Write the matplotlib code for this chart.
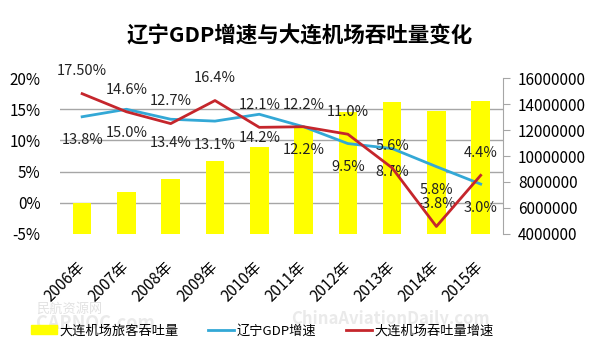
import numpy as np
import matplotlib.pyplot as plt
from matplotlib.ticker import FixedLocator, FuncFormatter

plt.rcParams['font.family'] = ['Noto Sans CJK SC', 'DejaVu Sans']

# data
years = ['2006年', '2007年', '2008年', '2009年', '2010年',
         '2011年', '2012年', '2013年', '2014年', '2015年']
passengers = [6400000, 7200000, 8200000, 9600000, 10700000,
              12150000, 13400000, 14150000, 13500000, 14200000]
gdp_growth = [13.8, 15.0, 13.4, 13.1, 14.2, 12.2, 9.5, 8.7, 5.8, 3.0]
airport_growth = [17.5, 14.6, 12.7, 16.4, 12.1, 12.2, 11.0, 5.6, -3.8, 4.4]
airport_labels = ['17.50%', '14.6%', '12.7%', '16.4%', '12.1%',
                  '12.2%', '11.0%', '5.6%', '-3.8%', '4.4%']

YELLOW = '#FFFF00'
BLUE = '#33A8D6'
RED = '#C5262C'
GRID = '#A6A6A6'

fig = plt.figure(figsize=(6, 3.55), dpi=100)
ax = fig.add_axes([0.1, 0.341, 0.738, 0.439])
ax2 = ax.twinx()
x = np.arange(len(years))

# bars on the primary axes, their scale shown on the right side
ax.bar(x, passengers, width=0.42, color=YELLOW, zorder=2)
ax.set_ylim(4000000, 16000000)
ax.set_xlim(-0.5, len(years) - 0.5)
ax.yaxis.tick_right()
ax.yaxis.set_label_position('right')
ax.set_yticks(np.arange(4000000, 16000001, 2000000))
ax.yaxis.set_major_formatter(FuncFormatter(lambda v, p: f'{int(v)}'))
ax.tick_params(axis='y', which='major', length=5, color=GRID, labelsize=11, pad=6)
ax.yaxis.set_minor_locator(FixedLocator(np.linspace(4000000, 16000000, 6)))
ax.tick_params(axis='y', which='minor', length=0)
ax.grid(axis='y', which='minor', color=GRID, lw=1, zorder=0)
ax.set_axisbelow(True)
for s in ['top', 'left', 'bottom']:
    ax.spines[s].set_visible(False)
ax.spines['right'].set_color(GRID)

ax.set_xticks(x)
ax.set_xticklabels(years, rotation=45, ha='right', va='center',
                   rotation_mode='anchor', fontsize=11)
ax.tick_params(axis='x', length=0, pad=22)

# growth lines on the twin axes, their scale shown on the left side
ax2.yaxis.tick_left()
ax2.yaxis.set_label_position('left')
ax2.set_ylim(-5, 20)
ax2.set_yticks(np.arange(-5, 21, 5))
ax2.yaxis.set_major_formatter(FuncFormatter(lambda v, p: f'{int(v)}%'))
ax2.tick_params(axis='y', length=0, labelsize=11, pad=14)
for s in ax2.spines.values():
    s.set_visible(False)

ax2.plot(x, gdp_growth, color=BLUE, lw=2, zorder=3)
ax2.plot(x, airport_growth, color=RED, lw=2, zorder=4)

for i in x:
    ax2.annotate(airport_labels[i], (i, airport_growth[i]), xytext=(0, 16),
                 textcoords='offset points', ha='center', va='center',
                 fontsize=10.5, color='#222222')
    ax2.annotate(f'{gdp_growth[i]:.1f}%', (i, gdp_growth[i]), xytext=(0, -17),
                 textcoords='offset points', ha='center', va='center',
                 fontsize=10.5, color='#222222')

fig.text(0.5, 0.9, '辽宁GDP增速与大连机场吞吐量变化', ha='center', va='center',
         fontsize=15.5, fontweight='bold')

# faint watermarks
fig.text(0.06, 0.13, '民航资源网', fontsize=9.5, color='#E2E2E2', va='center')
fig.text(0.06, 0.09, 'CARNOC.com', fontsize=13, color='#EAEAEA', va='center',
         fontweight='bold')
fig.text(0.485, 0.1, 'ChinaAviationDaily.com', fontsize=12, color='#EAEAEA',
         va='center', fontweight='bold')

h1 = plt.Rectangle((0, 0), 1, 1, color=YELLOW)
h2 = plt.Line2D([], [], color=BLUE, lw=2)
h3 = plt.Line2D([], [], color=RED, lw=2)
fig.legend([h1, h2, h3], ['大连机场旅客吞吐量', '辽宁GDP增速', '大连机场吞吐量增速'],
           loc='center', bbox_to_anchor=(0.437, 0.068), ncol=3, frameon=False,
           fontsize=9.5, handlelength=2, handletextpad=0.2, columnspacing=2.2)

fig.savefig('out.png', dpi=100)
